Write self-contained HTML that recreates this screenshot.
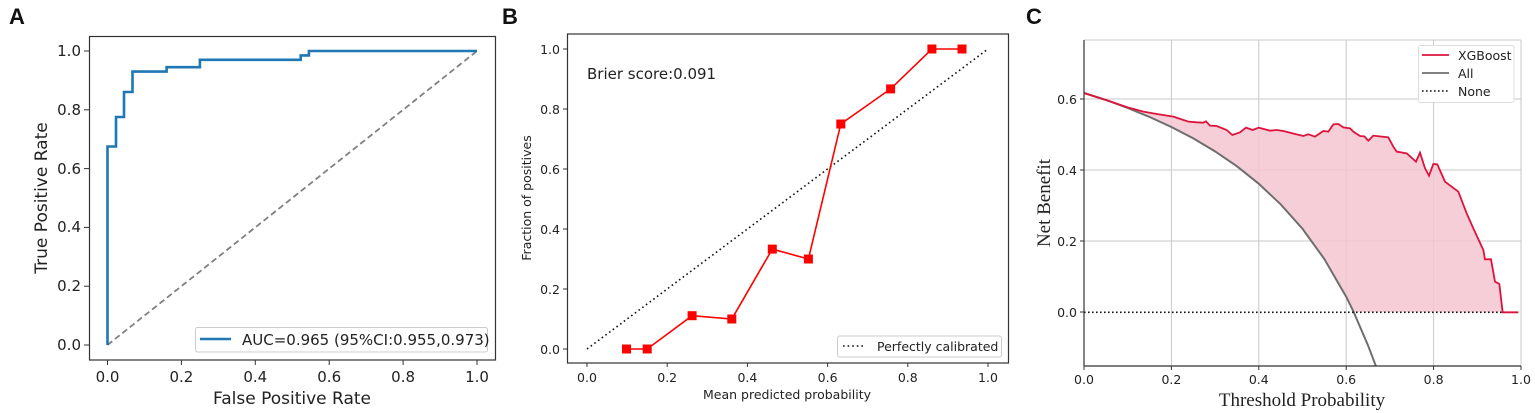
<!DOCTYPE html>
<html><head><meta charset="utf-8"><style>
html,body{margin:0;padding:0;background:#fff;}
svg{display:block;}
text{font-family:"DejaVu Sans","Liberation Sans",sans-serif;fill:#222;}
.t{font-family:"Liberation Sans",sans-serif;font-weight:bold;font-size:22px;fill:#111;}
.serif{font-family:"Liberation Serif","DejaVu Serif",serif;}
</style></head><body>
<svg width="1535" height="413" viewBox="0 0 1535 413" xmlns="http://www.w3.org/2000/svg">
<rect width="1535" height="413" fill="#fff"/>
<!-- Panel A -->
<text class="t" x="9" y="24">A</text>
<g font-size="15">
<rect x="89.5" y="36.5" width="406" height="323.5" fill="none" stroke="#333" stroke-width="1.2"/>
<line x1="107.5" y1="345" x2="477" y2="51" stroke="#808080" stroke-width="1.8" stroke-dasharray="6,3.5"/>
<polyline fill="none" stroke="#1f77b4" stroke-width="2.6" points="107.5,345 107.5,146.5 116,146.5 116,117 124,117 124,92 132.5,92 132.5,71.6 166.6,71.6 166.6,67.2 199.9,67.2 199.9,59.8 300.7,59.8 300.7,55.4 308.9,55.4 308.9,51 477,51"/>
<g stroke="#333" stroke-width="1">
<line x1="84" y1="345" x2="89" y2="345"/><line x1="84" y1="286.2" x2="89" y2="286.2"/><line x1="84" y1="227.4" x2="89" y2="227.4"/><line x1="84" y1="168.6" x2="89" y2="168.6"/><line x1="84" y1="109.8" x2="89" y2="109.8"/><line x1="84" y1="51" x2="89" y2="51"/>
<line x1="107.5" y1="360" x2="107.5" y2="365"/><line x1="181.4" y1="360" x2="181.4" y2="365"/><line x1="255.3" y1="360" x2="255.3" y2="365"/><line x1="329.2" y1="360" x2="329.2" y2="365"/><line x1="403.1" y1="360" x2="403.1" y2="365"/><line x1="477" y1="360" x2="477" y2="365"/>
</g>
<g text-anchor="end"><text x="81" y="350">0.0</text><text x="81" y="291">0.2</text><text x="81" y="232">0.4</text><text x="81" y="174">0.6</text><text x="81" y="115">0.8</text><text x="81" y="56">1.0</text></g>
<g text-anchor="middle"><text x="107.5" y="382">0.0</text><text x="181.4" y="382">0.2</text><text x="255.3" y="382">0.4</text><text x="329.2" y="382">0.6</text><text x="403.1" y="382">0.8</text><text x="477" y="382">1.0</text></g>
<text x="292" y="404" text-anchor="middle" font-size="17">False Positive Rate</text>
<text transform="translate(47,198) rotate(-90)" text-anchor="middle" font-size="17">True Positive Rate</text>
<rect x="195.5" y="327.5" width="292" height="24.5" rx="2" fill="#fff" stroke="#ccc"/>
<line x1="200" y1="339" x2="231" y2="339" stroke="#1f77b4" stroke-width="2.6"/>
<text x="242" y="345">AUC=0.965 (95%CI:0.955,0.973)</text>
</g>
<!-- Panel B -->
<text class="t" x="502" y="24">B</text>
<g font-size="12.5">
<rect x="567.5" y="34" width="441" height="329" fill="none" stroke="#333" stroke-width="1.2"/>
<line x1="587" y1="349" x2="988" y2="49" stroke="#111" stroke-width="1.6" stroke-dasharray="1.6,3"/>
<polyline fill="none" stroke="#ff0000" stroke-width="1.6" points="626.3,349 647.2,349 692.1,315.7 731.8,319 772.3,249.1 808.4,259 840.8,124 890.6,88.9 931.9,49 962,49"/>
<g fill="#ff0000"><rect x="622" y="344.5" width="9" height="9"/><rect x="642.7" y="344.5" width="9" height="9"/><rect x="687.6" y="311.2" width="9" height="9"/><rect x="727.3" y="314.5" width="9" height="9"/><rect x="767.8" y="244.6" width="9" height="9"/><rect x="803.9" y="254.5" width="9" height="9"/><rect x="836.3" y="119.5" width="9" height="9"/><rect x="886.1" y="84.4" width="9" height="9"/><rect x="927.4" y="44.5" width="9" height="9"/><rect x="957.5" y="44.5" width="9" height="9"/></g>
<g stroke="#333" stroke-width="1">
<line x1="563" y1="349" x2="567" y2="349"/><line x1="563" y1="289" x2="567" y2="289"/><line x1="563" y1="229" x2="567" y2="229"/><line x1="563" y1="169" x2="567" y2="169"/><line x1="563" y1="109" x2="567" y2="109"/><line x1="563" y1="49" x2="567" y2="49"/>
<line x1="587" y1="363" x2="587" y2="367"/><line x1="667.2" y1="363" x2="667.2" y2="367"/><line x1="747.4" y1="363" x2="747.4" y2="367"/><line x1="827.6" y1="363" x2="827.6" y2="367"/><line x1="907.8" y1="363" x2="907.8" y2="367"/><line x1="988" y1="363" x2="988" y2="367"/>
</g>
<g text-anchor="end"><text x="560" y="354">0.0</text><text x="560" y="294">0.2</text><text x="560" y="234">0.4</text><text x="560" y="174">0.6</text><text x="560" y="114">0.8</text><text x="560" y="54">1.0</text></g>
<g text-anchor="middle"><text x="587" y="382">0.0</text><text x="667.2" y="382">0.2</text><text x="747.4" y="382">0.4</text><text x="827.6" y="382">0.6</text><text x="907.8" y="382">0.8</text><text x="988" y="382">1.0</text></g>
<text x="787" y="399" text-anchor="middle">Mean predicted probability</text>
<text transform="translate(531,198) rotate(-90)" text-anchor="middle">Fraction of positives</text>
<text x="587" y="79" font-size="15">Brier score:0.091</text>
<rect x="837.5" y="336" width="164" height="21" rx="2" fill="#fff" stroke="#ccc"/>
<line x1="843" y1="346" x2="866" y2="346" stroke="#111" stroke-width="1.6" stroke-dasharray="1.6,3"/>
<text x="877" y="351">Perfectly calibrated</text>
</g>
<!-- Panel C -->
<text class="t" x="1026" y="24">C</text>
<g font-size="12.5">
<g stroke="#c8c8c8" stroke-width="1">
<line x1="1171.4" y1="40" x2="1171.4" y2="366"/><line x1="1258.8" y1="40" x2="1258.8" y2="366"/><line x1="1346.2" y1="40" x2="1346.2" y2="366"/><line x1="1433.6" y1="40" x2="1433.6" y2="366"/><line x1="1521" y1="40" x2="1521" y2="366"/>
<line x1="1084" y1="241" x2="1521" y2="241"/><line x1="1084" y1="170" x2="1521" y2="170"/><line x1="1084" y1="99" x2="1521" y2="99"/><line x1="1084" y1="40" x2="1521" y2="40"/>
</g>
<g transform="translate(1030,0) scale(0.33333)">
<polygon fill="#f5c6d0" fill-opacity="0.85" points="162,279 228,300 293,322 340,335 380,342 430,350 475,365 500,367 520,368 528,364 540,377 560,378 590,390 607,405 630,397 648,383 668,390 686,383 720,392 740,390 760,393 800,403 820,408 835,403 855,410 880,393 895,395 910,373 925,372 940,382 960,385 970,395 990,408 1003,409 1015,422 1030,407 1075,412 1090,440 1100,455 1130,460 1158,485 1170,458 1185,505 1197,527 1210,492 1222,493 1245,545 1285,575 1310,640 1330,685 1360,750 1365,778 1383,778 1395,845 1408,852 1418,937 971,936 949,891 883,777 818,687 752,613 686,551 621,499 555,454 490,415 424,381 359,351 293,324 228,300"/>
<polyline fill="none" stroke="#6e6e6e" stroke-width="2" vector-effect="non-scaling-stroke" points="162,279 228,300 293,324 359,351 424,381 490,415 555,454 621,499 686,551 752,613 818,687 883,777 949,891 971,936 1014,1036 1038,1099"/>
<line x1="162" y1="937" x2="1465" y2="937" stroke="#111" stroke-width="1.6" vector-effect="non-scaling-stroke" stroke-dasharray="1.6,2.4"/>
<polyline fill="none" stroke="#dc143c" stroke-width="1.8" vector-effect="non-scaling-stroke" points="162,279 228,300 293,322 340,335 380,342 430,350 475,365 500,367 520,368 528,364 540,377 560,378 590,390 607,405 630,397 648,383 668,390 686,383 720,392 740,390 760,393 800,403 820,408 835,403 855,410 880,393 895,395 910,373 925,372 940,382 960,385 970,395 990,408 1003,409 1015,422 1030,407 1075,412 1090,440 1100,455 1130,460 1158,485 1170,458 1185,505 1197,527 1210,492 1222,493 1245,545 1285,575 1310,640 1330,685 1360,750 1365,778 1383,778 1395,845 1408,852 1418,937 1465,937"/>
</g>
<line x1="1084" y1="40" x2="1084" y2="366" stroke="#333" stroke-width="1.2"/>
<line x1="1084" y1="366" x2="1521" y2="366" stroke="#333" stroke-width="1.2"/>
<g stroke="#333" stroke-width="1">
<line x1="1080" y1="312" x2="1084" y2="312"/><line x1="1080" y1="241" x2="1084" y2="241"/><line x1="1080" y1="170" x2="1084" y2="170"/><line x1="1080" y1="99" x2="1084" y2="99"/>
<line x1="1084" y1="366" x2="1084" y2="370"/><line x1="1171.4" y1="366" x2="1171.4" y2="370"/><line x1="1258.8" y1="366" x2="1258.8" y2="370"/><line x1="1346.2" y1="366" x2="1346.2" y2="370"/><line x1="1433.6" y1="366" x2="1433.6" y2="370"/><line x1="1521" y1="366" x2="1521" y2="370"/>
</g>
<g text-anchor="end"><text x="1077" y="317">0.0</text><text x="1077" y="246">0.2</text><text x="1077" y="175">0.4</text><text x="1077" y="104">0.6</text></g>
<g text-anchor="middle"><text x="1084" y="384">0.0</text><text x="1171.4" y="384">0.2</text><text x="1258.8" y="384">0.4</text><text x="1346.2" y="384">0.6</text><text x="1433.6" y="384">0.8</text><text x="1521" y="384">1.0</text></g>
<text class="serif" x="1302" y="406" text-anchor="middle" font-size="19">Threshold Probability</text>
<text class="serif" transform="translate(1050,203) rotate(-90)" text-anchor="middle" font-size="19">Net Benefit</text>
<rect x="1418.5" y="45.5" width="95.5" height="57" rx="2" fill="#fff" stroke="#ddd"/>
<line x1="1422" y1="55" x2="1449" y2="55" stroke="#dc143c" stroke-width="1.8"/>
<line x1="1422" y1="73" x2="1449" y2="73" stroke="#6e6e6e" stroke-width="1.8"/>
<line x1="1422" y1="91" x2="1449" y2="91" stroke="#111" stroke-width="1.6" stroke-dasharray="1.6,2.4"/>
<text x="1458" y="60">XGBoost</text><text x="1458" y="78">All</text><text x="1458" y="96">None</text>
</g>
</svg>
</body></html>
